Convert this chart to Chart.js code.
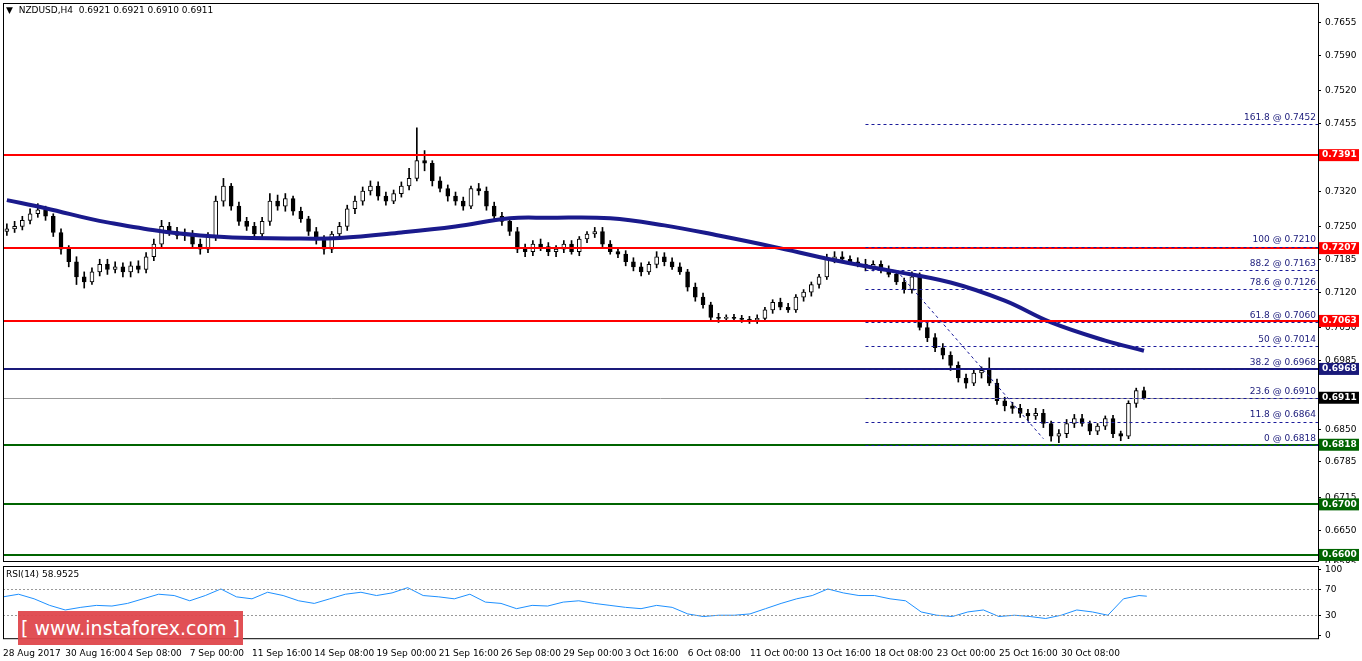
<!DOCTYPE html>
<html><head><meta charset="utf-8">
<script src="https://cdn.jsdelivr.net/npm/chart.js@4.4.0/dist/chart.umd.min.js"></script>
<style>
body{margin:0;background:#fff;width:1362px;height:661px;overflow:hidden;font-family:"DejaVu Sans",sans-serif}
#c1{position:absolute;left:0;top:0}
#c2{position:absolute;left:0;top:563px}
#wm{position:absolute;left:18px;top:611px;width:225px;height:34px;background:#e0474c;color:#fff;font:19px "DejaVu Sans";line-height:34px;text-align:center;opacity:.95}
</style></head><body>
<canvas id="c1" width="1362" height="563"></canvas>
<canvas id="c2" width="1362" height="98"></canvas>
<div id="wm">[ www.instaforex.com ]</div>
<script>
const dateLabels=["28 Aug 2017","30 Aug 16:00","4 Sep 08:00","7 Sep 00:00","11 Sep 16:00","14 Sep 08:00","19 Sep 00:00","21 Sep 16:00","26 Sep 08:00","29 Sep 00:00","3 Oct 16:00","6 Oct 08:00","11 Oct 00:00","13 Oct 16:00","18 Oct 08:00","23 Oct 00:00","25 Oct 16:00","30 Oct 08:00"];
const opens=[.7240,.7245,.7250,.7262,.7275,.7283,.7270,.7238,.7205,.7180,.7150,.7140,.7160,.7175,.7165,.7170,.7160,.7172,.7165,.7190,.7215,.7250,.7240,.7232,.7235,.7215,.7205,.7230,.7300,.7330,.7290,.7260,.7250,.7235,.7260,.7300,.7290,.7305,.7280,.7265,.7240,.7225,.7205,.7235,.7250,.7285,.7300,.7320,.7330,.7310,.7300,.7315,.7330,.7345,.7380,.7375,.7340,.7325,.7310,.7300,.7290,.7325,.7320,.7290,.7270,.7260,.7240,.7205,.7200,.7215,.7210,.7200,.7205,.7215,.7200,.7225,.7235,.7240,.7215,.7200,.7195,.7180,.7170,.7160,.7175,.7190,.7180,.7170,.7160,.7130,.7110,.7095,.7070,.7068,.7070,.7068,.7066,.7065,.7068,.7085,.7100,.7090,.7085,.7110,.7120,.7135,.7150,.7185,.7190,.7185,.7180,.7175,.7170,.7175,.7165,.7155,.7140,.7125,.7150,.7050,.7030,.7010,.6995,.6975,.6950,.6940,.6960,.6965,.6940,.6905,.6895,.6890,.6880,.6875,.6880,.6860,.6835,.6840,.6860,.6870,.6860,.6845,.6855,.6870,.6840,.6835,.6900,.6925];
const highs=[.7255,.7260,.7270,.7285,.7295,.7290,.7275,.7245,.7212,.7190,.7160,.7168,.7185,.7185,.7180,.7178,.7180,.7182,.7198,.7225,.7262,.7258,.7248,.7245,.7242,.7225,.7238,.7310,.7345,.7335,.7298,.7268,.7258,.7268,.7315,.7312,.7315,.7310,.7288,.7270,.7248,.7232,.7240,.7258,.7292,.7310,.7328,.7340,.7338,.7318,.7322,.7338,.7365,.7445,.7400,.7380,.7348,.7332,.7318,.7308,.7330,.7335,.7328,.7298,.7278,.7268,.7248,.7215,.7222,.7225,.7218,.7212,.7222,.7222,.7230,.7240,.7248,.7248,.7222,.7208,.7202,.7188,.7178,.7180,.7200,.7198,.7188,.7178,.7165,.7138,.7118,.7100,.7078,.7075,.7076,.7074,.7072,.7075,.7090,.7105,.7108,.7098,.7115,.7125,.7140,.7155,.7195,.7200,.7200,.7192,.7188,.7185,.7182,.7182,.7172,.7160,.7148,.7160,.7158,.7060,.7038,.7018,.7002,.6982,.6958,.6968,.6972,.6990,.6948,.6912,.6902,.6898,.6888,.6890,.6888,.6865,.6848,.6868,.6878,.6878,.6865,.6860,.6875,.6876,.6845,.6905,.6930,.6932];
const lows=[.7232,.7238,.7243,.7255,.7268,.7262,.7230,.7195,.7170,.7135,.7128,.7135,.7152,.7155,.7158,.7150,.7150,.7158,.7158,.7182,.7208,.7232,.7225,.7222,.7208,.7195,.7198,.7222,.7290,.7282,.7252,.7242,.7228,.7228,.7252,.7282,.7280,.7272,.7258,.7232,.7215,.7195,.7198,.7228,.7242,.7275,.7292,.7312,.7302,.7292,.7295,.7308,.7322,.7340,.7360,.7330,.7318,.7300,.7292,.7282,.7285,.7312,.7282,.7262,.7252,.7232,.7198,.7190,.7192,.7202,.7192,.7190,.7198,.7195,.7192,.7218,.7228,.7210,.7195,.7188,.7172,.7162,.7152,.7155,.7168,.7172,.7165,.7155,.7122,.7102,.7088,.7062,.7060,.7062,.7062,.7060,.7058,.7058,.7062,.7078,.7085,.7080,.7080,.7102,.7112,.7128,.7145,.7178,.7178,.7175,.7170,.7162,.7162,.7158,.7150,.7135,.7118,.7118,.7045,.7022,.7002,.6988,.6965,.6942,.6930,.6935,.6950,.6935,.6898,.6885,.6880,.6872,.6865,.6868,.6852,.6825,.6822,.6832,.6852,.6855,.6838,.6838,.6848,.6832,.6826,.6830,.6892,.6908];
const closes=[.7245,.7250,.7262,.7275,.7283,.7270,.7238,.7205,.7180,.7150,.7140,.7160,.7175,.7165,.7170,.7160,.7172,.7165,.7190,.7215,.7250,.7240,.7232,.7235,.7215,.7205,.7230,.7300,.7330,.7290,.7260,.7250,.7235,.7260,.7300,.7290,.7305,.7280,.7265,.7240,.7225,.7205,.7235,.7250,.7285,.7300,.7320,.7330,.7310,.7300,.7315,.7330,.7345,.7380,.7375,.7340,.7325,.7310,.7300,.7290,.7325,.7320,.7290,.7270,.7260,.7240,.7205,.7200,.7215,.7210,.7200,.7205,.7215,.7200,.7225,.7235,.7240,.7215,.7200,.7195,.7180,.7170,.7160,.7175,.7190,.7180,.7170,.7160,.7130,.7110,.7095,.7070,.7068,.7070,.7068,.7066,.7065,.7068,.7085,.7100,.7090,.7085,.7110,.7120,.7135,.7150,.7185,.7190,.7185,.7180,.7175,.7170,.7175,.7165,.7155,.7140,.7125,.7150,.7050,.7030,.7010,.6995,.6975,.6950,.6940,.6960,.6965,.6940,.6905,.6895,.6890,.6880,.6875,.6880,.6860,.6835,.6840,.6860,.6870,.6860,.6845,.6855,.6870,.6840,.6835,.6900,.6925,.6911];
const maIdx=[0,5,13,25,38,43,51,58,65,70,78,85,92,99,107,114,122,129,135,142,147];
const maVal=[.7302,.7286,.7258,.7232,.7226,.7227,.7238,.7250,.7266,.7267,.7266,.7252,.7232,.7210,.7183,.7163,.7139,.7103,.7060,.7024,.7004];
const rsiVals=[58,62,55,45,38,42,45,44,48,55,62,60,52,60,70,58,55,65,60,52,48,55,62,65,60,64,72,60,58,55,62,50,48,40,45,44,50,52,48,45,42,40,45,42,32,28,30,30,32,40,48,55,60,70,64,60,60,55,52,35,30,28,35,38,28,30,28,25,30,38,35,30,55,60,59];
const hLines=[{v:.7391,c:'#ff0000',w:2},{v:.7207,c:'#ff0000',w:2},{v:.7063,c:'#ff0000',w:2},{v:.6968,c:'#1a1a7a',w:2},{v:.6818,c:'#006400',w:2},{v:.6700,c:'#006400',w:2},{v:.6600,c:'#006400',w:2},{v:.6911,c:'#999999',w:1}];
const fibLevels=[[161.8,.7452],[100,.7210],[88.2,.7163],[78.6,.7126],[61.8,.7060],[50,.7014],[38.2,.6968],[23.6,.6910],[11.8,.6864],[0,.6818]];
const priceTicks=[.7655,.7590,.7520,.7455,.7385,.7320,.7250,.7185,.7120,.7050,.6985,.6915,.6850,.6785,.6715,.6650,.6585];
const rsiTicks=[100,70,30,0];
const N=170, fibStart=111, trendA=[115,.7163], trendB=[134,.6830];

const labels=[];for(let i=0;i<N;i++)labels.push(i%8===0&&dateLabels[i/8]?dateLabels[i/8]:'');
const wick=[],body=[],bodyCol=[];
for(let i=0;i<closes.length;i++){wick.push([lows[i],highs[i]]);const lo=Math.min(opens[i],closes[i]),hi=Math.max(opens[i],closes[i]);body.push([lo,hi===lo?hi+0.00005:hi]);bodyCol.push(closes[i]>=opens[i]?'#ffffff':'#000000');}
const ma=new Array(N).fill(null);maIdx.forEach((k,j)=>ma[k]=maVal[j]);
const rsi=new Array(N).fill(null);rsiVals.forEach((v,j)=>{const k=j<74?j*2:147;rsi[k]=v;});
const FONT={family:'DejaVu Sans',size:9};
const fitY=a=>{a.width=44};
function drawTicks(ch,ticks,fmt){const {ctx,chartArea:ca,scales:{y}}=ch;ctx.save();ctx.fillStyle='#000';ctx.strokeStyle='#000';ctx.font='9px DejaVu Sans';ctx.textAlign='left';ctx.textBaseline='middle';
 ticks.forEach(v=>{const py=Math.round(y.getPixelForValue(v))+.5;ctx.beginPath();ctx.moveTo(ca.right,py);ctx.lineTo(ca.right+3,py);ctx.stroke();ctx.fillText(fmt(v),ca.right+7,py);});ctx.restore();}

const overlay={id:'ov',afterDatasetsDraw(ch){
 const {ctx,chartArea:ca,scales:{x,y}}=ch;ctx.save();
 hLines.forEach(h=>{const py=Math.round(y.getPixelForValue(h.v))+(h.w===1?.5:0);ctx.strokeStyle=h.c;ctx.lineWidth=h.w;ctx.beginPath();ctx.moveTo(ca.left,py);ctx.lineTo(ca.right,py);ctx.stroke();});
 const fx=x.getPixelForValue(fibStart);ctx.setLineDash([3,3]);ctx.strokeStyle='#1a1a9a';ctx.lineWidth=1;
 fibLevels.forEach(f=>{const py=Math.round(y.getPixelForValue(f[1]))+.5;ctx.beginPath();ctx.moveTo(fx,py);ctx.lineTo(ca.right,py);ctx.stroke();});
 ctx.beginPath();ctx.moveTo(x.getPixelForValue(trendA[0]),y.getPixelForValue(trendA[1]));ctx.lineTo(x.getPixelForValue(trendB[0]),y.getPixelForValue(trendB[1]));ctx.stroke();
 ctx.setLineDash([]);ctx.fillStyle='#1a1a7a';ctx.font='9px DejaVu Sans';ctx.textAlign='right';ctx.textBaseline='bottom';
 fibLevels.forEach(f=>ctx.fillText(f[0]+' @ '+f[1].toFixed(4),ca.right-2,y.getPixelForValue(f[1])-2));
 ctx.fillStyle='#000';ctx.textAlign='left';ctx.textBaseline='top';ctx.fillText('▼  NZDUSD,H4  0.6921 0.6921 0.6910 0.6911',6,6);
 ctx.restore();},
 afterDraw(ch){drawTicks(ch,priceTicks,v=>v.toFixed(4));const {ctx,chartArea:ca,scales:{y}}=ch;ctx.save();ctx.font='bold 9px DejaVu Sans';ctx.textBaseline='middle';ctx.textAlign='left';
 hLines.forEach(h=>{const py=y.getPixelForValue(h.v);ctx.fillStyle=h.w===1?'#000':h.c;ctx.fillRect(ca.right+1,py-6,40,12);ctx.fillStyle='#fff';ctx.fillText(h.v.toFixed(4),ca.right+4,py);});
 ctx.strokeStyle='#000';ctx.lineWidth=1;ctx.strokeRect(ca.left+.5,ca.top+.5,ca.right-ca.left,ca.bottom-ca.top);ctx.restore();}};

new Chart(document.getElementById('c1'),{type:'bar',data:{labels,datasets:[
 {type:'line',data:ma,borderColor:'#1a1a8c',borderWidth:4,pointRadius:0,spanGaps:true,tension:.4,order:0},
 {data:wick,backgroundColor:'#000',barThickness:1,grouped:false,order:2},
 {data:body,backgroundColor:bodyCol,borderColor:'#000',borderWidth:1,barThickness:4,grouped:false,borderSkipped:false,order:1}]},
 options:{animation:false,responsive:false,plugins:{legend:{display:false},tooltip:{enabled:false}},layout:{padding:{left:3,top:3,right:0,bottom:2}},
 scales:{x:{display:false},
 y:{position:'right',min:.6588,max:.7692,afterFit:fitY,ticks:{display:false},grid:{display:false},border:{display:false}}}},plugins:[overlay]});

const rsiPlug={id:'rp',afterDatasetsDraw(ch){const {ctx,chartArea:ca,scales:{y}}=ch;ctx.save();ctx.setLineDash([2,2]);ctx.strokeStyle='#999';
 [70,30].forEach(v=>{const py=Math.round(y.getPixelForValue(v))+.5;ctx.beginPath();ctx.moveTo(ca.left,py);ctx.lineTo(ca.right,py);ctx.stroke();});
 ctx.setLineDash([]);ctx.strokeStyle='#000';ctx.strokeRect(ca.left+.5,ca.top+.5,ca.right-ca.left,ca.bottom-ca.top);
 ctx.fillStyle='#000';ctx.font='9px DejaVu Sans';ctx.textBaseline='top';ctx.fillText('RSI(14) 58.9525',6,ca.top+4);ctx.restore();},
 afterDraw(ch){drawTicks(ch,rsiTicks,v=>String(v));}};
new Chart(document.getElementById('c2'),{type:'line',data:{labels,datasets:[{data:rsi,borderColor:'#1e90ff',borderWidth:1,pointRadius:0,spanGaps:true}]},
 options:{animation:false,responsive:false,plugins:{legend:{display:false},tooltip:{enabled:false}},layout:{padding:{left:3,top:3,right:0,bottom:0}},
 scales:{x:{ticks:{font:FONT,color:'#000',autoSkip:false,maxRotation:0,align:'start',padding:2,callback:function(v){return labels[v]}},grid:{display:false},border:{display:false}},
 y:{position:'right',min:-5,max:105,afterFit:fitY,ticks:{display:false},grid:{display:false},border:{display:false}}}},plugins:[rsiPlug]});
</script></body></html>
